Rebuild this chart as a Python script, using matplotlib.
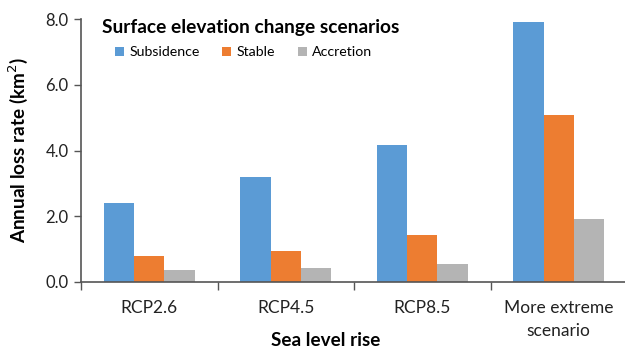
import matplotlib
matplotlib.use("Agg")
import matplotlib.pyplot as plt
import numpy as np

plt.rcParams['font.family'] = ['Lato', 'DejaVu Sans']

categories = ["RCP2.6", "RCP4.5", "RCP8.5", "More extreme\nscenario"]
series_names = ["Subsidence", "Stable", "Accretion"]
subsidence = [2.41, 3.20, 4.17, 7.91]
stable = [0.77, 0.93, 1.41, 5.07]
accretion = [0.36, 0.43, 0.53, 1.90]
yticks = [0.0, 2.0, 4.0, 6.0, 8.0]
colors = ["#5B9BD5", "#ED7D31", "#B4B4B4"]

fig = plt.figure(figsize=(6.25, 3.51), dpi=100)
ax = fig.add_axes([81 / 625, 1 - 281.7 / 351, 546 / 625, (281.7 - 19.3) / 351])

x = np.arange(len(categories))
width = 0.222
for i, (vals, name) in enumerate(zip([subsidence, stable, accretion], series_names)):
    ax.bar(x + (i - 1) * width, vals, width, color=colors[i], label=name)

ax.set_xlim(-0.5, len(categories) - 0.5)
ax.set_ylim(0, 8.0)
ax.set_yticks(yticks)
ax.set_yticklabels([f"{v:.1f}" for v in yticks], fontsize=12, color="#222222")
ax.set_xticks(x)
ax.set_xticklabels(categories, fontsize=12.5, color="#222222", linespacing=1.55)
ax.tick_params(axis='x', length=0, pad=13)
ax.set_xticks(np.arange(len(categories) + 1) - 0.5, minor=True)
ax.tick_params(axis='x', which='minor', length=6, color="#555555", width=1)
ax.tick_params(axis='y', length=5, color="#555555", width=1, pad=4)

for s in ["top", "right"]:
    ax.spines[s].set_visible(False)
for s in ["left", "bottom"]:
    ax.spines[s].set_color("#555555")
    ax.spines[s].set_linewidth(1.2)

ax.set_ylabel("Annual loss rate (km$^2$)", fontsize=13.6, fontweight="bold")
ax.yaxis.set_label_coords((18 - 81) / 546, (281.7 - 150.5) / 262.4)
ax.set_xlabel("Sea level rise", fontsize=13.6, fontweight="bold")
ax.xaxis.set_label_coords((326 - 81) / 546, -(341 - 281.7) / 262.4)
ax.xaxis.label.set_va("center")
ax.yaxis.label.set_va("center")

fig.text(102 / 625, 1 - 28 / 351, "Surface elevation change scenarios", fontsize=13.8,
         fontweight="bold", va="center", ha="left")
leg = ax.legend(loc="center left", bbox_to_anchor=(115 / 625, 1 - 52.5 / 351),
                bbox_transform=fig.transFigure, ncol=3, frameon=False, fontsize=10.2,
                handlelength=0.65, handleheight=0.65, handletextpad=0.35, columnspacing=1.6,
                borderaxespad=0, borderpad=0)

fig.savefig("out.png", dpi=100)
